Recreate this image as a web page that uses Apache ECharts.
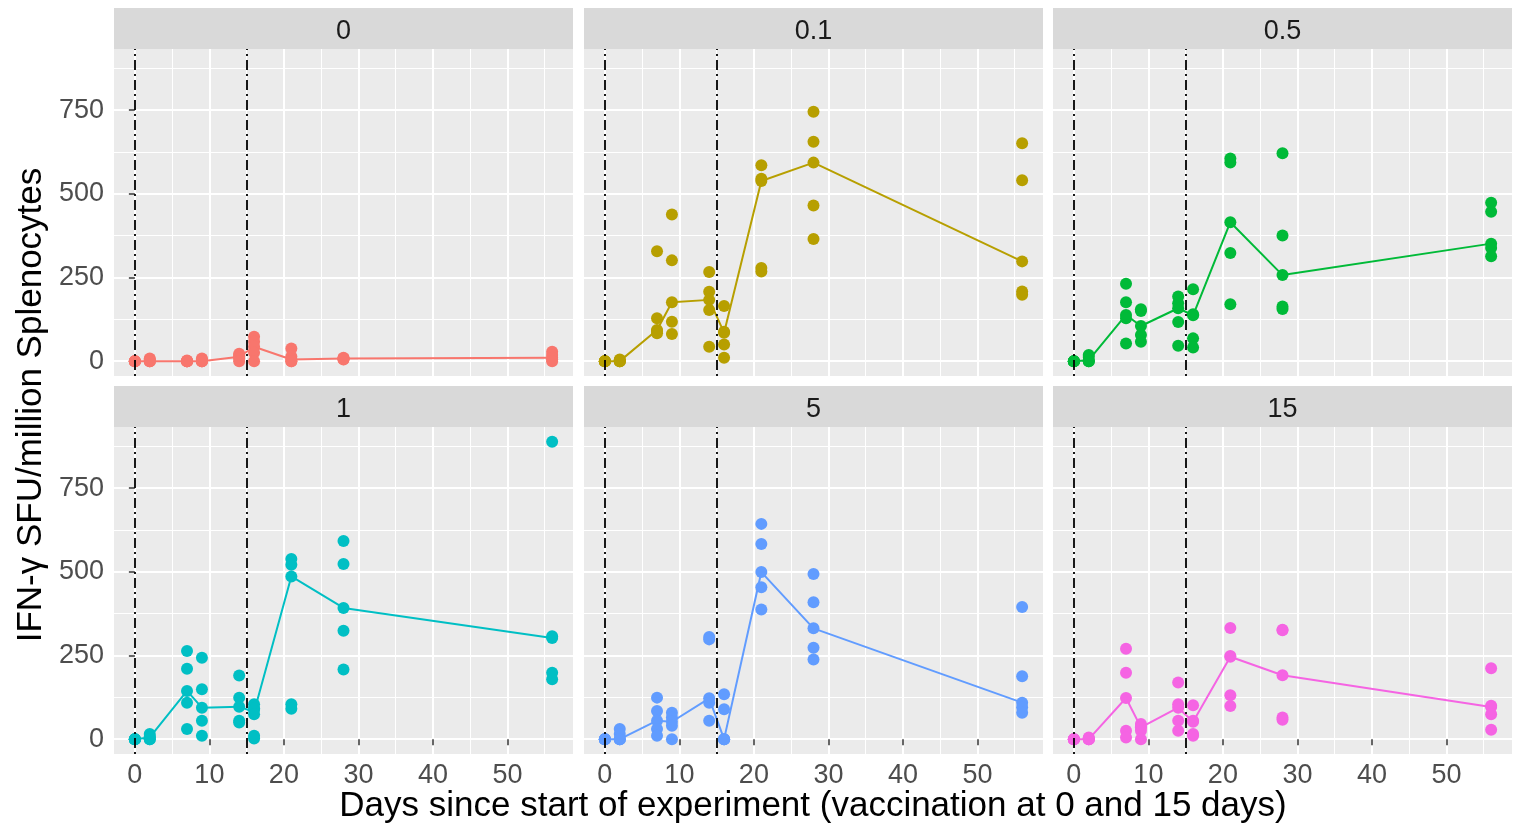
<!DOCTYPE html>
<html>
<head>
<meta charset="utf-8">
<title>IFN-γ response by dose</title>
<script src="https://cdn.jsdelivr.net/npm/echarts@6/dist/echarts.min.js"></script>
<style>
  html, body { margin: 0; padding: 0; background: #ffffff; }
  #chart { width: 1515px; height: 828px; }
</style>
</head>
<body>
<div id="chart"></div>
<script>
// Facet labels (dose) and their hue colours
const doseLabels = ['0', '0.1', '0.5', '1', '5', '15'];
const doseColors = ['#F8766D', '#B79F00', '#00BA38', '#00BFC4', '#619CFF', '#F564E3'];

// Sampling days and vaccination days
const sampleDays = [0, 2, 7, 9, 14, 16, 21, 28, 56];
const vaccinationDays = [0, 15];

// Axis ticks
const xTickValues = [0, 10, 20, 30, 40, 50];
const xMinorValues = [5, 15, 25, 35, 45, 55];
const yTickValues = [0, 250, 500, 750];
const yMinorValues = [125, 375, 625, 875];

// IFN-γ SFU per million splenocytes, one list of mice per sampling day
const sfuDose0 = [
  [0, 0, 0, 0, 0], [8, 5, 0, 0, 0], [2, 0, 0, 0, 0], [8, 5, 0, 0, 0], [22, 18, 13, 8, 0],
  [73, 58, 43, 25, 0], [38, 14, 5, 0, 0], [10, 8, 8, 6, 5], [28, 18, 10, 5, 0]
];
const sfuDose0_1 = [
  [0, 0, 0, 0, 0], [5, 3, 0, 0, 0], [328, 128, 93, 90, 83], [438, 301, 176, 118, 81], [266, 207, 183, 153, 43],
  [165, 88, 85, 50, 10], [585, 545, 538, 278, 268], [745, 655, 593, 465, 365], [651, 540, 298, 208, 198]
];
const sfuDose0_5 = [
  [0, 0, 0, 0, 0], [18, 12, 3, 0, 0], [231, 176, 138, 128, 53], [155, 150, 105, 78, 58], [193, 173, 158, 117, 46],
  [215, 140, 137, 68, 41], [605, 593, 415, 323, 170], [621, 375, 257, 163, 156], [473, 446, 351, 338, 313]
];
const sfuDose1 = [
  [0, 0, 0, 0, 0], [15, 8, 5, 0, 0], [263, 210, 144, 109, 30], [243, 149, 94, 55, 10], [190, 124, 97, 55, 50],
  [104, 92, 88, 74, 10, 2], [538, 521, 486, 104, 91], [592, 523, 392, 324, 208], [888, 307, 302, 198, 179]
];
const sfuDose5 = [
  [0, 0, 0, 0, 0], [30, 15, 0, 0, 0], [124, 84, 55, 30, 10], [79, 65, 52, 40, 0], [305, 298, 122, 109, 55],
  [134, 89, 0, 0, 0], [643, 583, 499, 454, 387], [493, 409, 331, 273, 238], [395, 188, 109, 95, 79]
];
const sfuDose15 = [
  [0, 0, 0, 0, 0], [5, 3, 0, 0, 0], [270, 198, 123, 25, 5], [45, 37, 35, 25, 0], [169, 104, 94, 55, 25],
  [101, 55, 52, 15, 10], [332, 248, 246, 131, 99], [327, 325, 191, 65, 58], [212, 100, 96, 74, 28]
];
const sfuByDose = [sfuDose0, sfuDose0_1, sfuDose0_5, sfuDose1, sfuDose5, sfuDose15];

// ---- helpers ----
function median(values) {
  const s = values.slice().sort((a, b) => a - b);
  const m = Math.floor(s.length / 2);
  return s.length % 2 ? s[m] : (s[m - 1] + s[m]) / 2;
}

// Shared scales with 5% padding on each side of the data range
const allValues = sfuByDose.flat(2);
const yDataMax = Math.max(...allValues);
const yPad = yDataMax * 0.05;
const yMin = -yPad, yMax = yDataMax + yPad;
const xDataMax = Math.max(...sampleDays);
const xPad = xDataMax * 0.05;
const xMin = -xPad, xMax = xDataMax + xPad;

// Panel layout (2 rows x 3 columns)
const FONT = '"Liberation Sans", Arial, Helvetica, sans-serif';
const panelLeft = [114, 584, 1053];
const panelTop = [49, 427];
const panelWidth = 459;
const panelHeight = 327;
const stripHeight = 41;

const grids = [], xAxes = [], yAxes = [], series = [], graphics = [];

doseLabels.forEach((label, i) => {
  const row = Math.floor(i / 3), col = i % 3;
  const left = panelLeft[col], top = panelTop[row];
  const color = doseColors[i];
  const data = sfuByDose[i];

  grids.push({
    left: left, top: top, width: panelWidth, height: panelHeight,
    show: true, backgroundColor: '#EBEBEB', borderWidth: 0
  });

  const showX = row === 1, showY = col === 0;

  // major x axis (labels, ticks, major grid)
  xAxes.push({
    type: 'value', gridIndex: i, min: xMin, max: xMax,
    axisLine: { show: false },
    axisTick: { show: showX, customValues: xTickValues, length: 6, lineStyle: { color: '#333333', width: 1.5 } },
    axisLabel: { show: showX, customValues: xTickValues, fontSize: 27, color: '#4D4D4D', fontFamily: FONT, margin: 8 },
    splitLine: { show: true, lineStyle: { color: '#FFFFFF', width: 2 } }
  });
  // minor x grid
  xAxes.push({
    type: 'value', gridIndex: i, min: xMin, max: xMax,
    axisLine: { show: false },
    axisTick: { show: false, customValues: xMinorValues },
    axisLabel: { show: false, customValues: xMinorValues },
    splitLine: { show: true, lineStyle: { color: '#FFFFFF', width: 1 } }
  });
  // major y axis
  yAxes.push({
    type: 'value', gridIndex: i, min: yMin, max: yMax,
    axisLine: { show: false },
    axisTick: { show: showY, customValues: yTickValues, length: 6, lineStyle: { color: '#333333', width: 1.5 } },
    axisLabel: { show: showY, customValues: yTickValues, fontSize: 27, color: '#4D4D4D', fontFamily: FONT, margin: 10 },
    splitLine: { show: true, lineStyle: { color: '#FFFFFF', width: 2 } }
  });
  // minor y grid
  yAxes.push({
    type: 'value', gridIndex: i, min: yMin, max: yMax,
    axisLine: { show: false },
    axisTick: { show: false, customValues: yMinorValues },
    axisLabel: { show: false, customValues: yMinorValues },
    splitLine: { show: true, lineStyle: { color: '#FFFFFF', width: 1 } }
  });

  const points = [];
  sampleDays.forEach((d, k) => data[k].forEach(v => points.push([d, v])));
  const medians = sampleDays.map((d, k) => [d, median(data[k])]);

  // median line with vaccination markers
  series.push({
    type: 'line', xAxisIndex: 2 * i, yAxisIndex: 2 * i,
    data: medians, showSymbol: false, symbol: 'none', z: 3,
    lineStyle: { color: color, width: 2 },
    markLine: {
      silent: true, symbol: ['none', 'none'], label: { show: false },
      lineStyle: { color: '#000000', width: 1.8, type: [2, 4, 10, 4], opacity: 1 },
      emphasis: { disabled: true },
      data: vaccinationDays.map(d => ({ xAxis: d }))
    }
  });
  // individual mice
  series.push({
    type: 'scatter', xAxisIndex: 2 * i, yAxisIndex: 2 * i,
    data: points, symbolSize: 12, z: 4,
    itemStyle: { color: color, opacity: 1 }
  });

  // facet strip
  graphics.push({
    type: 'rect', silent: true,
    shape: { x: left, y: top - stripHeight, width: panelWidth, height: stripHeight },
    style: { fill: '#D9D9D9' }
  });
  graphics.push({
    type: 'text', silent: true,
    x: left + panelWidth / 2, y: top - stripHeight / 2 + 3,
    style: {
      text: label, fill: '#1A1A1A', fontSize: 27, fontFamily: FONT,
      align: 'center', verticalAlign: 'middle', textAlign: 'center', textVerticalAlign: 'middle'
    }
  });
});

// axis titles
graphics.push({
  type: 'text', silent: true, x: 813, y: 806,
  style: {
    text: 'Days since start of experiment (vaccination at 0 and 15 days)',
    fill: '#000000', fontSize: 35, fontFamily: FONT,
    align: 'center', verticalAlign: 'middle', textAlign: 'center', textVerticalAlign: 'middle'
  }
});
graphics.push({
  type: 'text', silent: true, x: 31, y: 405, rotation: Math.PI / 2,
  style: {
    text: 'IFN-γ SFU/million Splenocytes',
    fill: '#000000', fontSize: 35, fontFamily: FONT,
    align: 'center', verticalAlign: 'middle', textAlign: 'center', textVerticalAlign: 'middle'
  }
});

const chart = echarts.init(document.getElementById('chart'), null, { renderer: 'canvas' });
chart.setOption({
  animation: false,
  backgroundColor: '#FFFFFF',
  grid: grids,
  xAxis: xAxes,
  yAxis: yAxes,
  series: series,
  graphic: { elements: graphics }
});
</script>
</body>
</html>
